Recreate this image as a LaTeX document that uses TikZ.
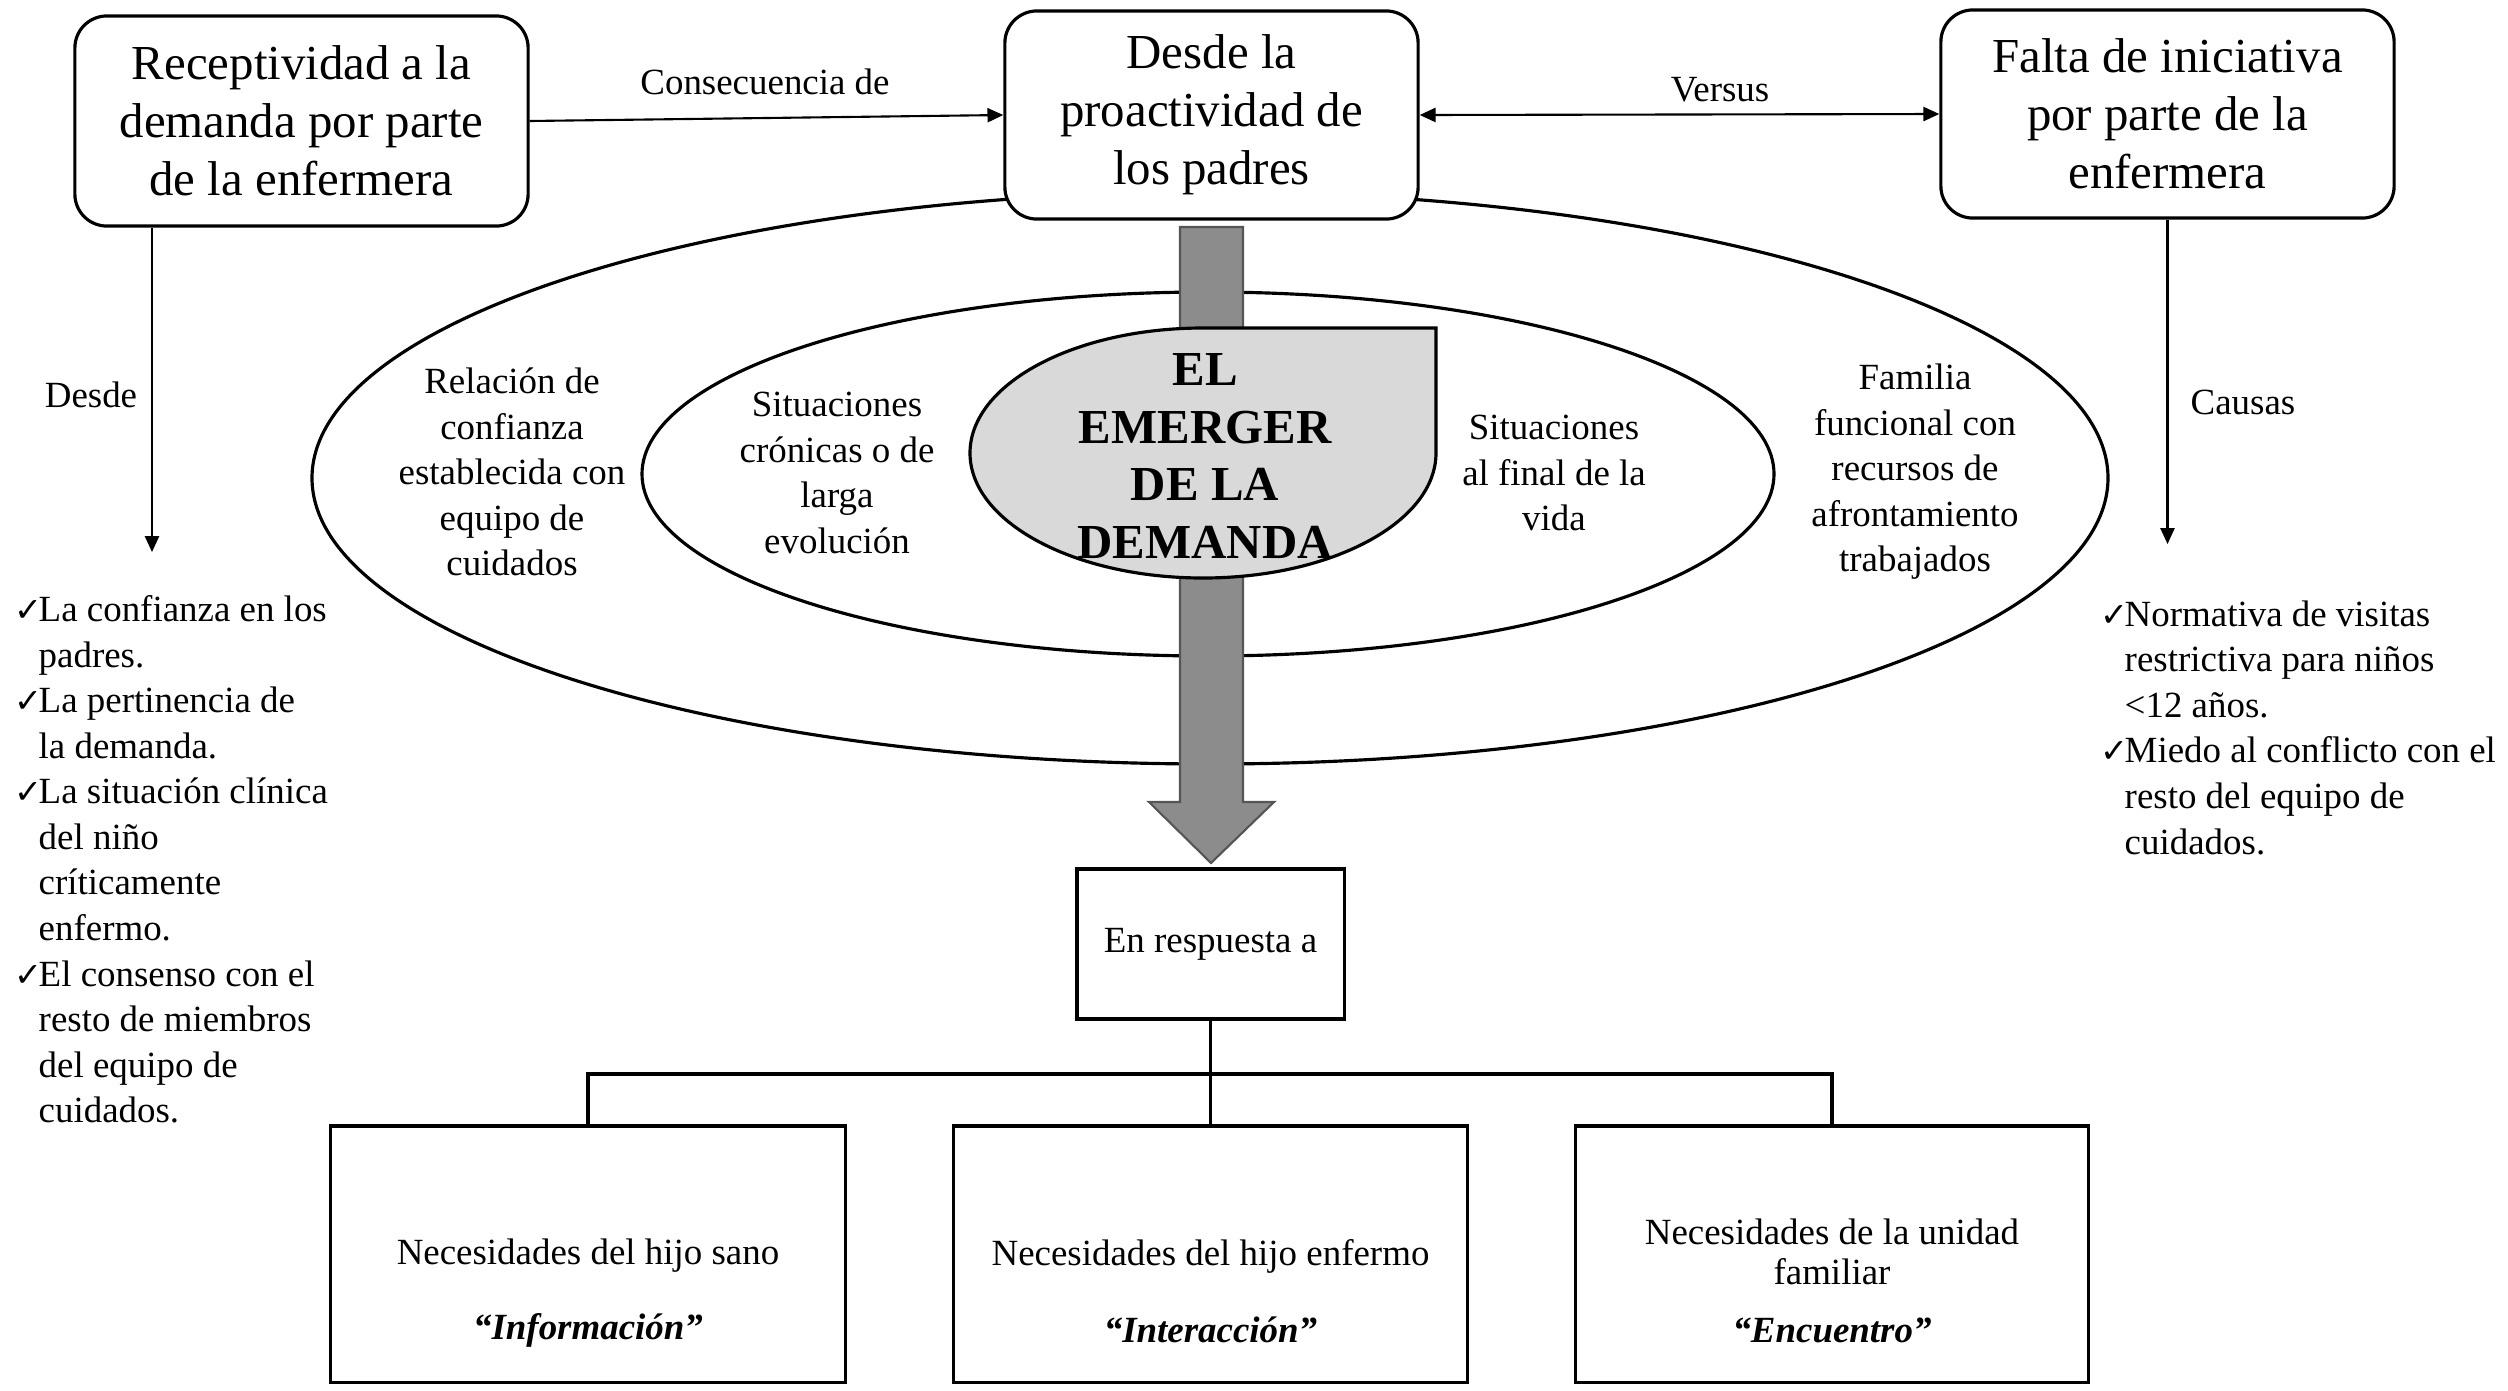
\documentclass[tikz,border=0pt]{standalone}
\usepackage{fontspec}
\setmainfont{Liberation Serif}
\newfontfamily\symfont{DejaVu Sans}
\usetikzlibrary{arrows.meta,calc}
\definecolor{teargray}{RGB}{217,217,217}
\definecolor{bargray}{RGB}{140,140,140}
\definecolor{baredge}{RGB}{85,85,85}
\newcommand\ck{\makebox[0.24cm][l]{\symfont\fontsize{9.5}{9.5}\selectfont ✓}}
\newcommand\ind{\hspace*{0.24cm}}
\tikzset{
  bigtext/.style={font=\fontsize{13.9}{16.5}\selectfont, align=center},
  smalltext/.style={font=\fontsize{10.5}{12.95}\selectfont, align=center},
  topbox/.style={draw, line width=0.9pt, rounded corners=0.32cm, fill=white, bigtext, inner sep=0pt},
  plainbox/.style={draw, line width=0.9pt, fill=white, inner sep=0pt},
  arr/.style={-{Triangle[length=4.5pt,width=4pt]}, line width=0.6pt},
  dblarr/.style={{Triangle[length=4.5pt,width=4pt]}-{Triangle[length=4.5pt,width=4pt]}, line width=0.6pt},
  emerg/.style={font=\fontsize{13.9}{16.36}\selectfont\bfseries, align=center, inner sep=0pt},
  quote/.style={font=\fontsize{10.5}{12.95}\selectfont\bfseries\itshape},
}
\begin{document}
\begin{tikzpicture}[x=0.01cm, y=-0.01cm]
\useasboundingbox (0,0) rectangle (2508,1390);

% ellipses
\draw[line width=0.9pt] (1210,478) ellipse [x radius=898, y radius=286];
\draw[line width=0.9pt] (1208,474) ellipse [x radius=566, y radius=182];

% big gray arrow
\draw[fill=bargray, draw=baredge, line width=0.6pt]
  (1180,227) -- (1243,227) -- (1243,802) -- (1274,802) -- (1211,863)
  -- (1149,802) -- (1180,802) -- cycle;

% teardrop shape
\draw[fill=teargray, line width=0.9pt]
  (1436,328) -- (1203,328) arc [start angle=270, end angle=0, x radius=233, y radius=125] -- cycle;
\node[emerg] (emerger) at (1205,456) {EL\\EMERGER\\DE LA\\DEMANDA};

% top boxes
\node[topbox, minimum width=4.53cm, minimum height=2.10cm] (recep) at (301.5,121)
  {Receptividad a la\\demanda por parte\\de la enfermera};
\node[topbox, minimum width=4.13cm, minimum height=2.08cm] (proact) at (1211.5,115)
  {Desde la\\proactividad de\\los padres};
\node[topbox, minimum width=4.53cm, minimum height=2.08cm] (falta) at (2167.5,114)
  {Falta de iniciativa\\por parte de la\\enfermera};

% top connectors
\draw[arr] (recep.east) -- (proact.west);
\draw[dblarr] (proact.east) -- (falta.west);
\node[smalltext] (lblcons) at (765,82) {Consecuencia de};
\node[smalltext] (lblvers) at (1720,90) {Versus};

\coordinate (dEnd) at (152,552);
\draw[arr] (recep.south -| dEnd) -- (dEnd);
\node[smalltext] (lbldesde) at (91,395) {Desde};
\coordinate (cEnd) at (2167.5,544);
\draw[arr] (falta.south) -- (cEnd);
\node[smalltext] (lblcausas) at (2243,402) {Causas};

% ellipse texts
\node[smalltext] (rel) at (512,472) {Relación de\\confianza\\establecida con\\equipo de\\cuidados};
\node[smalltext] (cron) at (837,473) {Situaciones\\crónicas o de\\larga\\evolución};
\node[smalltext] (final) at (1554,473) {Situaciones\\al final de la\\vida};
\node[smalltext] (fam) at (1915,472) {Familia\\funcional con\\recursos de\\afrontamiento\\trabajados};

% lists
\node[smalltext, align=left, anchor=north west, inner sep=0pt] (listL) at (14,595)
  {\ck La confianza en los\\\ind padres.\\\ck La pertinencia de\\\ind la demanda.\\\ck La situación clínica\\\ind del niño\\\ind críticamente\\\ind enfermo.\\\ck El consenso con el\\\ind resto de miembros\\\ind del equipo de\\\ind cuidados.};
\node[smalltext, align=left, anchor=north west, inner sep=0pt] (listR) at (2100,600)
  {\ck Normativa de visitas\\\ind restrictiva para niños\\\ind <12 años.\\\ck Miedo al conflicto con el\\\ind resto del equipo de\\\ind cuidados.};

% response box and tree
\node[plainbox, smalltext, minimum width=2.67cm, minimum height=1.50cm] (resp) at (1210.5,944) {En respuesta a};
\node[plainbox, minimum width=5.14cm, minimum height=2.56cm] (b1) at (588,1254) {};
\node[plainbox, minimum width=5.13cm, minimum height=2.56cm] (b2) at (1210.5,1254) {};
\node[plainbox, minimum width=5.12cm, minimum height=2.56cm] (b3) at (1832,1254) {};
\coordinate (hy) at (0,1074);
\draw[line width=0.9pt] (resp.south) -- (b2.north);
\draw[line width=0.9pt] (b1.north) -- (b1.north |- hy) -- (b3.north |- hy) -- (b3.north);

\node[smalltext] (b1t) at (588,1256) {Necesidades del hijo sano};
\node[quote] (b1q) at (588,1330) {“Información”};
\node[smalltext] (b2t) at (1210.5,1256) {Necesidades del hijo enfermo};
\node[quote] (b2q) at (1210.5,1330) {“Interacción”};
\node[smalltext, font=\fontsize{10.5}{11.4}\selectfont] (b3t) at (1832,1252) {Necesidades de la unidad\\familiar};
\node[quote] (b3q) at (1832,1330) {“Encuentro”};
\end{tikzpicture}
\end{document}
